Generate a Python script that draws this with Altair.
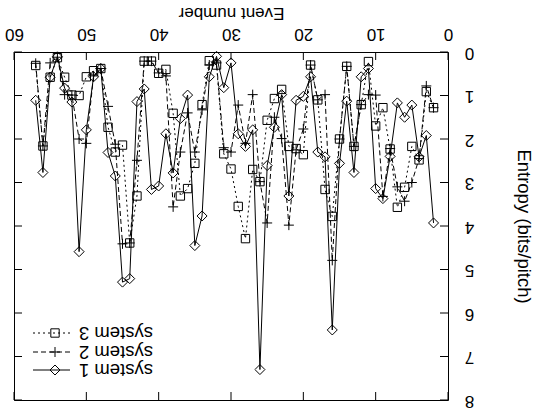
import altair as alt
import pandas as pd

events = list(range(2, 58))
system1 = [3.93, 1.92, 2.41, 1.22, 1.50, 1.17, 2.40, 3.37, 3.14, 0.38,
           0.57, 2.77, 1.13, 2.56, 6.39, 2.41, 2.30, 0.57, 1.02, 1.11,
           3.31, 0.98, 1.73, 2.61, 7.30, 1.79, 2.17, 1.88, 0.25, 0.82,
           0.10, 0.57, 3.77, 4.45, 0.99, 1.53, 2.78, 1.88, 3.08, 3.16,
           0.85, 1.14, 5.21, 5.29, 2.85, 2.31, 0.38, 0.57, 1.79, 4.59,
           1.15, 0.83, 0.11, 0.58, 2.77, 1.11]
system2 = [1.28, 0.78, 2.45, 3.00, 3.43, 3.10, 2.22, 3.32, 0.99, 0.98,
           1.21, 2.17, 0.33, 2.00, 4.79, 0.98, 1.10, 0.30, 1.77, 2.25,
           3.98, 1.99, 1.50, 3.93, 2.98, 0.98, 2.10, 1.22, 2.30, 2.20,
           0.25, 0.30, 1.33, 2.30, 1.40, 2.30, 3.56, 0.55, 0.48, 0.21,
           0.21, 2.49, 4.39, 4.41, 2.12, 1.25, 0.38, 0.55, 2.10, 2.00,
           0.99, 0.98, 0.12, 0.25, 2.16, 0.26]
system3 = [1.28, 0.91, 2.48, 2.17, 3.11, 3.57, 2.23, 1.28, 1.70, 0.22,
           1.21, 2.17, 0.33, 2.00, 3.78, 3.16, 1.10, 0.30, 2.36, 2.22,
           2.17, 0.86, 1.07, 1.57, 2.98, 2.70, 4.29, 3.55, 2.69, 2.34,
           0.30, 0.20, 1.21, 2.56, 3.14, 3.31, 1.41, 0.40, 0.49, 0.21,
           0.21, 3.31, 4.39, 2.14, 2.30, 1.73, 0.38, 0.43, 0.57, 1.00,
           0.99, 0.58, 0.13, 0.58, 2.16, 0.31]
series_names = ["system 1", "system 2", "system 3"]
x_ticks = [0, 10, 20, 30, 40, 50, 60]
y_ticks = [0, 1, 2, 3, 4, 5, 6, 7, 8]

W, H = 434, 348
FONT = "Liberation Sans"
PLUS = "M-1,0L1,0M0,-1L0,1"

df = pd.DataFrame({
    "event": events * 3,
    "entropy": system1 + system2 + system3,
    "series": [series_names[0]] * len(events) + [series_names[1]] * len(events) + [series_names[2]] * len(events),
})

xscale = alt.Scale(domain=[0, 60], reverse=True, nice=False, zero=False)
yscale = alt.Scale(domain=[0, 8], reverse=True, nice=False, zero=False)

xaxis = alt.Axis(orient="top", values=x_ticks, labelAngle=180, labelAlign="center",
                 labelBaseline="middle", labelPadding=19, ticks=False, tickSize=0,
                 domain=False, grid=False, labelFontSize=17, labelFont=FONT,
                 labelColor="black", labelOverlap=False, labelFlush=False,
                 title="Event number", titleAngle=180, titleAlign="center",
                 titleBaseline="middle", titleX=W / 2, titleY=-40, titleFont=FONT,
                 titleFontSize=17, titleFontWeight="normal", titleColor="black")
yaxis = alt.Axis(orient="right", values=y_ticks, labelAngle=180, labelAlign="center",
                 labelBaseline="middle", labelPadding=21, ticks=False, tickSize=0,
                 domain=False, grid=False, labelFontSize=17, labelFont=FONT,
                 labelColor="black", labelOverlap=False, labelFlush=False,
                 title="Entropy (bits/pitch)", titleAngle=90, titleAlign="center",
                 titleBaseline="middle", titleX=75, titleY=H / 2, titleFont=FONT,
                 titleFontSize=18.5, titleFontWeight="normal", titleColor="black")

X = alt.X("event:Q", scale=xscale, axis=xaxis)
Y = alt.Y("entropy:Q", scale=yscale, axis=yaxis)

styles = {
    "system 1": dict(dash=None, shape="diamond", size=100),
    "system 2": dict(dash=[5, 3], shape=PLUS, size=100),
    "system 3": dict(dash=[2, 3], shape="square", size=70),
}

layers = []
for name in series_names:
    st = styles[name]
    d = df[df.series == name]
    base = alt.Chart(d).encode(x=X, y=Y)
    lkw = dict(color="black", strokeWidth=1)
    if st["dash"]:
        lkw["strokeDash"] = st["dash"]
    layers.append(base.mark_line(**lkw))
    layers.append(base.mark_point(shape=st["shape"], size=st["size"], filled=False,
                                  color="black", strokeWidth=1, opacity=1))

# inward ticks on all four sides
xt = pd.DataFrame({"event": x_ticks})
yt = pd.DataFrame({"entropy": y_ticks})
layers.append(alt.Chart(xt).mark_rule(color="black", strokeWidth=1).encode(
    x=X, y=alt.value(0), y2=alt.value(8)))
layers.append(alt.Chart(xt).mark_rule(color="black", strokeWidth=1).encode(
    x=X, y=alt.value(H), y2=alt.value(H - 8)))
layers.append(alt.Chart(yt).mark_rule(color="black", strokeWidth=1).encode(
    y=Y, x=alt.value(W), x2=alt.value(W - 8)))
layers.append(alt.Chart(yt).mark_rule(color="black", strokeWidth=1).encode(
    y=Y, x=alt.value(0), x2=alt.value(8)))

# legend (rotated 180 degrees, bottom-left)
dummy = pd.DataFrame({"k": [0]})
legend_y = {"system 1": 318, "system 2": 300, "system 3": 281}
for name in series_names:
    st = styles[name]
    yp = legend_y[name]
    rkw = dict(color="black", strokeWidth=1)
    if st["dash"]:
        rkw["strokeDash"] = st["dash"]
    layers.append(alt.Chart(dummy).mark_rule(**rkw).encode(
        x=alt.value(19), x2=alt.value(56), y=alt.value(yp)))
    layers.append(alt.Chart(dummy).mark_point(shape=st["shape"], size=st["size"], filled=False,
                                              color="black", strokeWidth=1, opacity=1).encode(
        x=alt.value(41), y=alt.value(yp)))
    layers.append(alt.Chart(dummy).mark_text(angle=180, align="left", baseline="middle",
                                             fontSize=18.5, font=FONT, color="black").encode(
        x=alt.value(139), y=alt.value(yp), text=alt.value(name)))

chart = alt.layer(*layers).properties(
    width=W, height=H,
    autosize=alt.AutoSizeParams(type="none"),
    padding={"left": 14, "top": 52, "right": 107, "bottom": 12},
    background="white",
).configure_view(stroke="black", strokeWidth=1)

chart.save("out.html", embed_options={"renderer": "svg", "actions": False})
